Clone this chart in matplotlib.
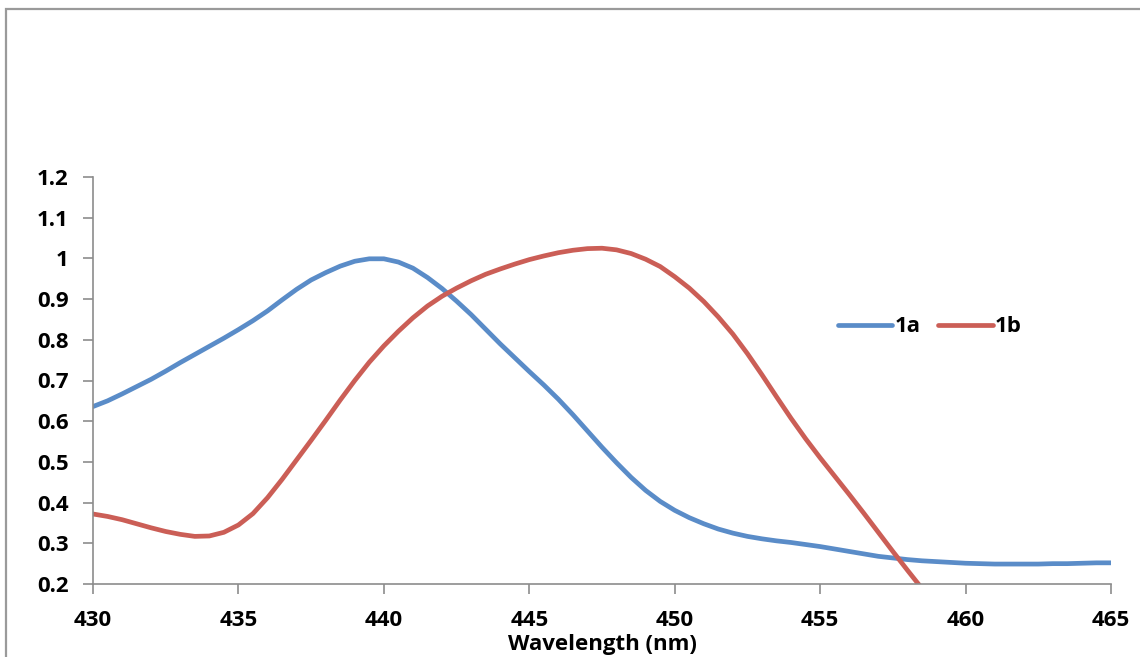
import matplotlib
matplotlib.use("Agg")
import numpy as np
import matplotlib.pyplot as plt
from matplotlib.patches import Rectangle

# wavelength grid (nm), 0.5 nm steps
wavelength = np.arange(430.0, 465.01, 0.5)

abs_1a = [0.636, 0.650, 0.667, 0.685, 0.703, 0.723, 0.744, 0.764, 0.784, 0.804,
          0.825, 0.847, 0.871, 0.898, 0.924, 0.947, 0.965, 0.981, 0.993, 0.999,
          0.999, 0.991, 0.976, 0.953, 0.926, 0.895, 0.862, 0.826, 0.790, 0.756,
          0.722, 0.689, 0.654, 0.616, 0.576, 0.536, 0.498, 0.462, 0.430, 0.403,
          0.381, 0.363, 0.348, 0.335, 0.325, 0.317, 0.311, 0.306, 0.302, 0.297,
          0.292, 0.286, 0.280, 0.274, 0.268, 0.264, 0.260, 0.257, 0.255, 0.253,
          0.251, 0.250, 0.249, 0.249, 0.249, 0.249, 0.250, 0.250, 0.251, 0.252,
          0.252]

abs_1b = [0.372, 0.366, 0.358, 0.348, 0.338, 0.329, 0.322, 0.317, 0.318, 0.327,
          0.345, 0.373, 0.412, 0.457, 0.505, 0.553, 0.602, 0.652, 0.700, 0.745,
          0.785, 0.821, 0.854, 0.883, 0.907, 0.927, 0.945, 0.961, 0.974, 0.986,
          0.997, 1.006, 1.014, 1.020, 1.024, 1.025, 1.021, 1.012, 0.998, 0.980,
          0.955, 0.927, 0.894, 0.856, 0.814, 0.766, 0.714, 0.660, 0.607, 0.557,
          0.510, 0.465, 0.420, 0.374, 0.327, 0.280, 0.234, 0.189, 0.144]
wavelength_1b = wavelength[:len(abs_1b)]

x_ticks = [430, 435, 440, 445, 450, 455, 460, 465]
y_ticks = [0.2, 0.3, 0.4, 0.5, 0.6, 0.7, 0.8, 0.9, 1.0, 1.1, 1.2]
y_labels = ["0.2", "0.3", "0.4", "0.5", "0.6", "0.7", "0.8", "0.9", "1", "1.1", "1.2"]

plt.rcParams['font.family'] = ['Open Sans', 'DejaVu Sans']
FS = 16
W, H = 1140, 657
fig = plt.figure(figsize=(W / 100, H / 100), dpi=100)
fig.patch.set_facecolor('white')

# outer chart frame
fig.add_artist(Rectangle((6 / W, -0.05), 1.2, 1 - 9 / H + 0.05, transform=fig.transFigure,
                         fill=False, edgecolor='#9a9a9a', linewidth=1.6))

ax = fig.add_axes([93 / W, 1 - 584 / H, (1111 - 93) / W, (584 - 177) / H])
blue = '#5A8CC8'
red = '#CB5E56'
ax.plot(wavelength, abs_1a, color=blue, lw=3.4, label='1a',
        solid_capstyle='round', solid_joinstyle='round')
ax.plot(wavelength_1b, abs_1b, color=red, lw=3.4, label='1b',
        solid_capstyle='round', solid_joinstyle='round')

ax.set_xlim(430, 465)
ax.set_ylim(0.2, 1.2)
ax.set_xticks(x_ticks)
ax.set_xticklabels([str(v) for v in x_ticks])
ax.set_yticks(y_ticks)
ax.set_yticklabels(y_labels)
for s in ['top', 'right']:
    ax.spines[s].set_visible(False)
for s in ['left', 'bottom']:
    ax.spines[s].set_color('#8c8c8c')
    ax.spines[s].set_linewidth(1.2)
ax.tick_params(axis='both', colors='#8c8c8c', length=7, width=1.2, direction='out')
ax.tick_params(axis='both', labelcolor='black', labelsize=FS)
ax.tick_params(axis='x', pad=12)
ax.tick_params(axis='y', pad=10.5)
for lab in ax.get_xticklabels() + ax.get_yticklabels():
    lab.set_fontweight('bold')

ax.set_xlabel('Wavelength (nm)', fontsize=FS, fontweight='bold', labelpad=2)

leg = ax.legend(loc='center left', bbox_to_anchor=(838 / W, 1 - 327 / H),
                bbox_transform=fig.transFigure, ncol=2, frameon=False,
                handlelength=2.45, handletextpad=0.1, columnspacing=0.8,
                borderpad=0, borderaxespad=0, prop={'size': FS, 'weight': 'bold'})

fig.savefig('out.png', dpi=100, facecolor='white')
